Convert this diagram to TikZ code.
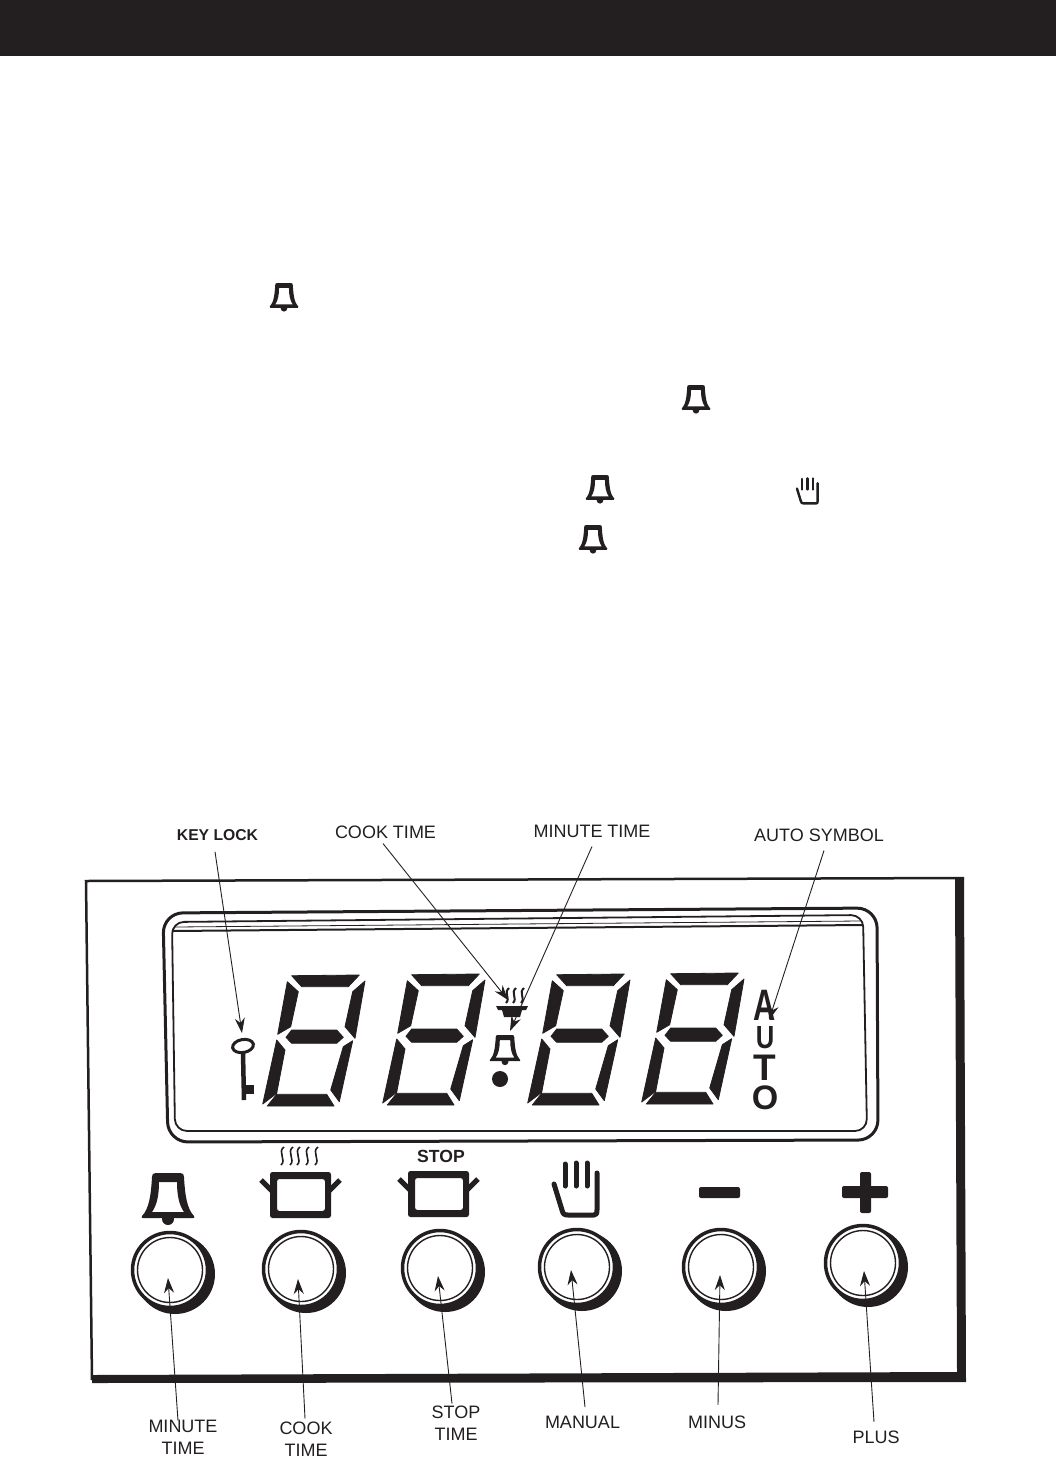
\documentclass[tikz,border=0pt]{standalone}
\usepackage{fontspec}
\setmainfont{Liberation Sans}
\usetikzlibrary{arrows.meta}
\definecolor{inkblack}{HTML}{231F20}
\tikzset{
    captext/.style={font=\fontsize{18}{22}\selectfont, text=inkblack, inner sep=0pt, align=center},
    boldtext/.style={font=\fontsize{15.7}{18}\selectfont\bfseries, text=inkblack, inner sep=0pt},
    autotext/.style={text=inkblack, inner sep=0pt, anchor=base},
    pointer/.style={draw=inkblack, line width=0.9pt, -{Stealth[length=15pt,width=10pt]}},
    btnshadow/.style={circle, fill=inkblack, minimum size=80pt, inner sep=0pt},
    btnring/.style={circle, draw=inkblack, fill=white, line width=3.5pt, minimum size=75pt, inner sep=0pt},
    btninner/.style={circle, draw=inkblack, line width=1.4pt, minimum size=65pt, inner sep=0pt},
    segment/.style={fill=inkblack, draw=inkblack, line width=0.8pt, line join=round},
    bellicon/.pic={
        \fill[inkblack, even odd rule] (-16,4) .. controls (-16,1) and (-15,0) .. (-12,0) -- (12,0)
            .. controls (15,0) and (16,1) .. (16,4) .. controls (17,22) and (19,36) .. (26,43)
            .. controls (27,45) and (26,45) .. (25,45) -- (-25,45) .. controls (-26,45) and (-27,45) .. (-26,43)
            .. controls (-19,36) and (-17,22) .. (-16,4) -- cycle
            (-9,9) -- (9,9) .. controls (9,22) and (11,32) .. (16,39)
            -- (-16,39) .. controls (-11,32) and (-9,22) .. (-9,9) -- cycle;
        \fill[inkblack] (0,46) circle (6);
    },
    poticon/.pic={
        \fill[inkblack, even odd rule, rounded corners=2.5pt] (0,0) rectangle (61,46)
            (7,7) rectangle (55,39);
        \draw[inkblack, line width=5pt] (-9,8) -- (2,19) (70,8) -- (59,19);
    },
    pics/handicon/.style={code={
        \draw[inkblack, line width=#1, line cap=round] (13,4) -- (13,26) (24,3) -- (24,26) (35,3) -- (35,26);
        \draw[inkblack, line width=#1, line cap=round, line join=round]
            (2,24) -- (10,50) .. controls (11,54) and (12,55) .. (16,55)
            -- (42,55) .. controls (45,55) and (45,53) .. (45,50) -- (45,13);
    }},
}
\begin{document}
\begin{tikzpicture}[x=1pt, y=-1pt]
    \useasboundingbox (0,0) rectangle (1056,1471);

    % Header bar
    \fill[inkblack] (0,0) rectangle (1056,56);

    % Symbols in the text area
    \foreach \x/\y in {284/283, 696/385, 600/475, 593/525} {
        \pic[scale=0.55] at (\x,\y) {bellicon};
    }
    \pic[scale=0.48] at (796,477) {handicon=2.4pt};

    % Panel outline
    \draw[inkblack, line width=2.5pt] (92,1380) -- (86,881) -- (964,878);
    \fill[inkblack] (955,878) -- (964,878) -- (966,1382) -- (92,1383) -- (92,1375) -- (957,1372) -- cycle;

    % Display window
    \draw[inkblack, line width=3pt, rounded corners=20pt] (163,913) -- (877,908) -- (878,1140) -- (168,1142) -- cycle;
    \draw[inkblack, line width=1.8pt, rounded corners=12pt] (172,922) -- (863,915) -- (867,1131) -- (175,1131) -- cycle;
    \draw[inkblack, line width=2pt] (172,931) -- (863,925);
    \draw[inkblack, line width=0.8pt] (175,927) -- (860,921);

    % Seven segment digits
    \foreach \dx/\dy in {262/1106, 382/1105, 527/1105, 641/1104} {
        \begin{scope}[shift={(\dx,\dy)}]
            \path[segment] (29.7,-130.3) -- (97.3,-131) -- (86.3,-119.3) -- (39.7,-119.3) -- cycle;
            \path[segment] (25.3,-124.3) -- (36.3,-114.3) -- (28.7,-79.3) -- (15.7,-71.7) -- cycle;
            \path[segment] (103,-125) -- (90.7,-114.3) -- (83,-79.3) -- (93,-67.7) -- cycle;
            \path[segment] (29.7,-76) -- (74.7,-76) -- (81.3,-68.7) -- (74.7,-62.7) -- (29.7,-62.7) -- (24,-68.7) -- cycle;
            \path[segment] (14.7,-66) -- (23,-56) -- (14.7,-12.7) -- (0.7,-2) -- cycle;
            \path[segment] (90.7,-65.3) -- (81.3,-59.3) -- (68.7,-16) -- (77.3,-4.3) -- cycle;
            \path[segment] (14.7,-11.7) -- (64.7,-11.7) -- (72,0) -- (5.3,0) -- cycle;
        \end{scope}
    }

    % Key symbol
    \draw[inkblack, line width=3pt] (243,1046) ellipse [x radius=10.5, y radius=6.5, rotate=10];
    \draw[inkblack, line width=4.5pt] (243,1053) -- (244,1100);
    \fill[inkblack] (245,1085) rectangle (254,1094);

    % Cook and minute symbols in the display
    \fill[inkblack] (496,1006) -- (528,1006) -- (526,1010) -- (522,1010) -- (520,1017) -- (504,1017) -- (502,1010) -- (498,1010) -- cycle;
    \foreach \x in {507,514,522} {
        \draw[inkblack, line width=2pt] (\x+2,988) .. controls (\x-4,993) and (\x+4,998) .. (\x-1,1003);
    }
    \pic[scale=0.58] at (505,1035) {bellicon};
    \fill[inkblack] (500,1079) circle (8);

    % Auto symbol
    \node[autotext, font=\fontsize{44}{44}\selectfont\bfseries, xscale=0.7] (autoA) at (765,1020) {A};
    \node[autotext, font=\fontsize{32}{32}\selectfont\bfseries, xscale=0.8] (autoU) at (765,1048) {U};
    \node[autotext, font=\fontsize{37}{37}\selectfont\bfseries] (autoT) at (765,1080) {T};
    \node[autotext, font=\fontsize{34}{34}\selectfont\bfseries] (autoO) at (765,1109) {O};

    % Button symbols
    \pic at (168,1173) {bellicon};
    \pic at (270,1172) {poticon};
    \pic at (408,1171) {poticon};
    \pic at (552,1160) {handicon=5pt};
    \foreach \x in {282,291,298,307,316} {
        \draw[inkblack, line width=1.6pt] (\x+2,1147) .. controls (\x-5,1152) and (\x+5,1160) .. (\x-1,1165);
    }
    \node[boldtext, font=\fontsize{17.6}{18}\selectfont\bfseries] (stopSign) at (441,1156) {STOP};
    \fill[inkblack, rounded corners=2pt] (699,1187) rectangle (740,1198);
    \fill[inkblack, rounded corners=2pt] (842,1186) rectangle (888,1198);
    \fill[inkblack, rounded corners=2pt] (860,1172) rectangle (871,1213);

    % Buttons
    \foreach \name/\x/\y in {Minute/170/1270, Cook/301/1269, Stop/440/1268, Manual/577/1267, Minus/721/1267, Plus/863/1263} {
        \node[btnshadow] at (\x+5,\y+4) {};
        \node[btnring] (btn\name) at (\x,\y) {};
        \node[btninner] at (\x,\y) {};
    }

    % Labels
    \node[boldtext] (lblKey) at (217.5,835) {KEY LOCK};
    \node[captext] (lblCookTop) at (385.5,832) {COOK TIME};
    \node[captext] (lblMinuteTop) at (592,831) {MINUTE TIME};
    \node[captext] (lblAuto) at (819,835) {AUTO SYMBOL};
    \node[captext] (lblMinute) at (183,1437) {MINUTE\\TIME};
    \node[captext] (lblCook) at (306,1439) {COOK\\TIME};
    \node[captext] (lblStop) at (456,1423) {STOP\\TIME};
    \node[captext] (lblManual) at (582.5,1422.5) {MANUAL};
    \node[captext] (lblMinus) at (717,1422.5) {MINUS};
    \node[captext] (lblPlus) at (876,1437.5) {PLUS};

    % Arrow tips
    \coordinate (tipKey) at (242,1033);
    \coordinate (tipCook) at (508,1000);
    \coordinate (tipBell) at (510,1031);
    \coordinate (tipAuto) at (769,1020);

    % Arrows to the display
    \draw[pointer] ([shift={(-2.5,11)}]lblKey.south) -- (tipKey);
    \draw[pointer] ([shift={(-2.5,5)}]lblCookTop.south) -- (tipCook);
    \draw[pointer] ([shift={(0,9)}]lblMinuteTop.south) -- (tipBell);
    \draw[pointer] ([shift={(5,9)}]lblAuto.south) -- (tipAuto);

    % Arrows to the buttons
    \draw[pointer] ([shift={(-5,1)}]lblMinute.north) -- ([shift={(-2,8)}]btnMinute.center);
    \draw[pointer] ([shift={(-1,-3)}]lblCook.north) -- ([shift={(-3,10)}]btnCook.center);
    \draw[pointer] ([shift={(-4,-2)}]lblStop.north) -- ([shift={(-2,8)}]btnStop.center);
    \draw[pointer] ([shift={(2.5,-9)}]lblManual.north) -- ([shift={(-6,3)}]btnManual.center);
    \draw[pointer] ([shift={(1,-11)}]lblMinus.north) -- ([shift={(-1,8)}]btnMinus.center);
    \draw[pointer] ([shift={(-2,-9)}]lblPlus.north) -- ([shift={(1,8)}]btnPlus.center);
\end{tikzpicture}
\end{document}
